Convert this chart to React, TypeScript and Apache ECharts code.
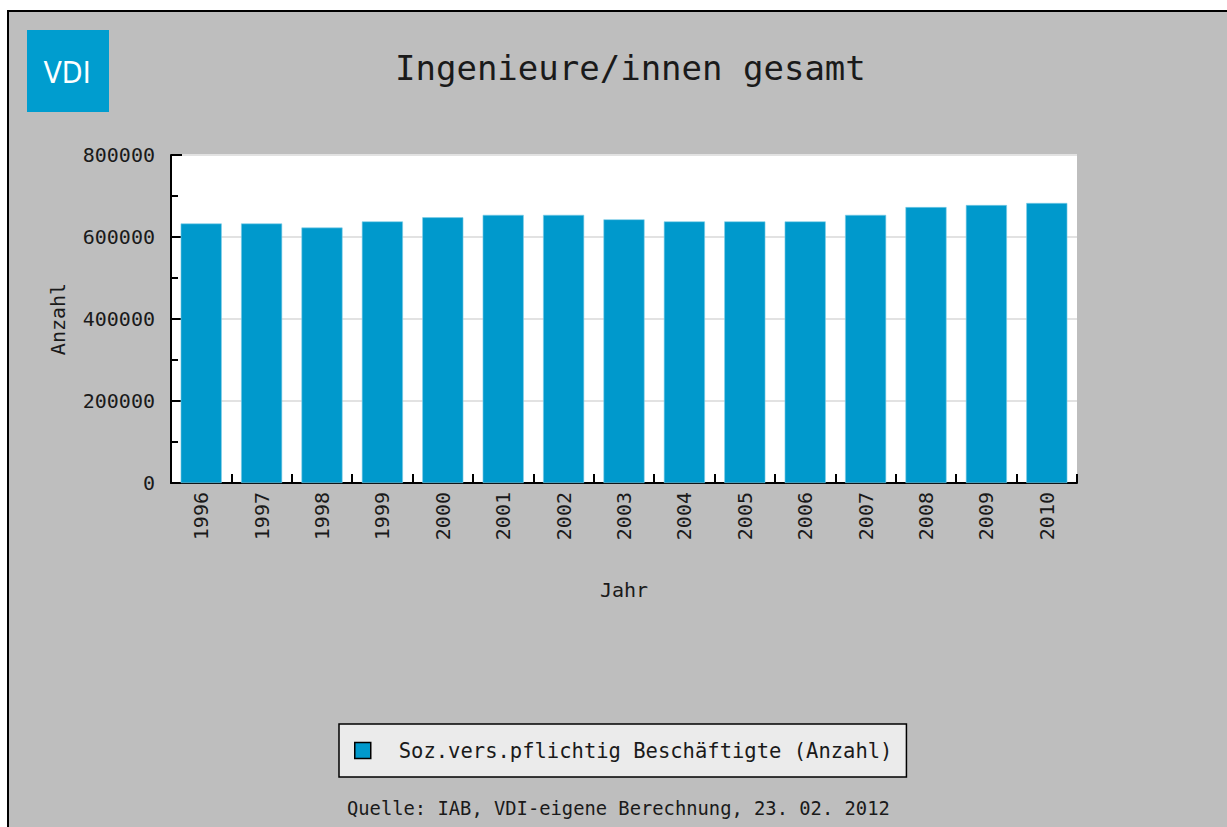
import React, { useEffect, useRef } from "react";
import * as echarts from "echarts";

const years = ["1996", "1997", "1998", "1999", "2000", "2001", "2002", "2003", "2004", "2005", "2006", "2007", "2008", "2009", "2010"];
const employees = [633000, 633000, 623000, 638000, 648000, 654000, 654000, 643000, 638000, 638000, 638000, 654000, 673000, 678000, 683000];
const seriesName = "Soz.vers.pflichtig Beschäftigte (Anzahl)";
const titleText = "Ingenieure/innen gesamt";
const sourceText = "Quelle: IAB, VDI-eigene Berechnung, 23. 02. 2012";
const yAxisName = "Anzahl";
const xAxisName = "Jahr";

const MONO = "'DejaVu Sans Mono', 'Liberation Mono', monospace";
const INK = "#1a1a1a";

export default function App() {
  const ref = useRef<HTMLDivElement>(null);
  useEffect(() => {
    if (!ref.current) return;
    const chart = echarts.init(ref.current, undefined, { renderer: "svg" });
    chart.setOption({
      animation: false,
      backgroundColor: "transparent",
      title: {
        text: titleText,
        left: 390,
        top: 46,
        textStyle: { fontFamily: MONO, fontSize: 34, fontWeight: "normal", color: INK },
      },
      grid: {
        left: 171,
        top: 155,
        right: 150,
        bottom: 344,
        show: true,
        backgroundColor: "#ffffff",
        borderWidth: 0,
      },
      legend: {
        left: 339,
        top: 724,
        orient: "horizontal",
        backgroundColor: "#ebebeb",
        borderColor: "#000000",
        borderWidth: 1.5,
        borderRadius: 0,
        padding: [16, 14, 16, 15],
        icon: "rect",
        itemWidth: 16,
        itemHeight: 16,
        itemStyle: { borderColor: "#000000", borderWidth: 1.5 },
        textStyle: { fontFamily: MONO, fontSize: 20.5, color: INK, padding: [0, 0, 0, 23] },
        data: [seriesName],
      },
      xAxis: {
        type: "category",
        data: years,
        name: xAxisName,
        nameLocation: "middle",
        nameGap: 97,
        nameTextStyle: { fontFamily: MONO, fontSize: 20, color: INK },
        axisLine: { show: true, lineStyle: { color: "#000000", width: 2 } },
        axisTick: { show: true, inside: true, length: 9, lineStyle: { color: "#000000", width: 2 } },
        axisLabel: { rotate: 90, margin: 9, fontFamily: MONO, fontSize: 20, color: INK },
      },
      yAxis: {
        type: "value",
        min: 0,
        max: 800000,
        interval: 200000,
        name: yAxisName,
        nameLocation: "middle",
        nameGap: 103,
        nameTextStyle: { fontFamily: MONO, fontSize: 20, color: INK },
        axisLine: { show: true, lineStyle: { color: "#000000", width: 2 } },
        axisTick: { show: true, inside: true, length: 11, lineStyle: { color: "#000000", width: 2 } },
        minorTick: { show: true, splitNumber: 2, length: 7, lineStyle: { color: "#000000", width: 2 } },
        axisLabel: {
          margin: 16,
          fontFamily: MONO,
          fontSize: 20,
          color: INK,
          formatter: (v: number) => String(v),
        },
        splitLine: { show: true, lineStyle: { color: "#e2e2e2", width: 2 } },
      },
      series: [
        {
          name: seriesName,
          type: "bar",
          data: employees,
          barWidth: "68%",
          itemStyle: { color: "#0099cc", borderColor: "#7fcfe8", borderWidth: 0.6 },
        },
      ],
      graphic: [
        {
          type: "rect",
          shape: { x: 27, y: 30, width: 82, height: 82 },
          style: { fill: "#009dcf" },
        },
        {
          type: "text",
          x: 67,
          y: 72,
          style: {
            text: "VDI",
            fill: "#ffffff",
            font: "30px 'DejaVu Sans Condensed', 'DejaVu Sans', sans-serif",
            textAlign: "center",
            textVerticalAlign: "middle",
          },
        },
        {
          type: "text",
          x: 347,
          y: 808,
          style: {
            text: sourceText,
            fill: INK,
            font: "18.8px 'DejaVu Sans Mono', monospace",
            textAlign: "left",
            textVerticalAlign: "middle",
          },
        },
      ],
    });
    return () => chart.dispose();
  }, []);

  return (
    <div style={{ position: "absolute", left: 0, top: 0, width: 1227, height: 827, background: "#ffffff", overflow: "hidden" }}>
      <div
        style={{
          position: "absolute",
          left: 7,
          top: 10,
          width: 1240,
          height: 840,
          background: "#bebebe",
          borderLeft: "2px solid #000",
          borderTop: "2px solid #000",
        }}
      />
      <div ref={ref} style={{ position: "absolute", left: 0, top: 0, width: 1227, height: 827 }} />
    </div>
  );
}
